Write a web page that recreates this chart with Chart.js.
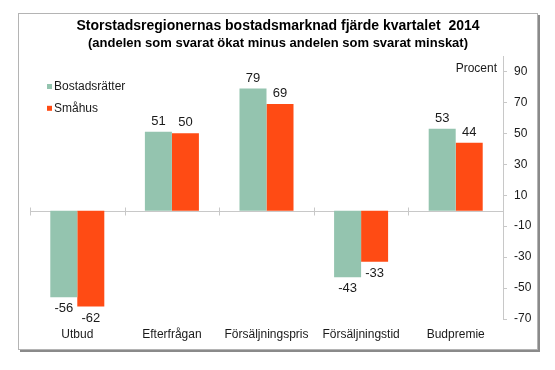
<!DOCTYPE html>
<html>
<head>
<meta charset="utf-8">
<script src="https://cdn.jsdelivr.net/npm/chart.js@4.4.1/dist/chart.umd.min.js"></script>
<style>
  html, body { margin: 0; padding: 0; background: #fff; }
  #chart { display: block; }
</style>
</head>
<body>
<canvas id="chart" width="555" height="370"></canvas>
<script>
// Chart data
const categories = ['Utbud', 'Efterfrågan', 'Försäljningspris', 'Försäljningstid', 'Budpremie'];
const bostadsratter = [-56, 51, 79, -43, 53];
const smahus = [-62, 50, 69, -33, 44];
const seriesNames = ['Bostadsrätter', 'Småhus'];
const yTicks = [-70, -50, -30, -10, 10, 30, 50, 70, 90];
const titleLines = [
    'Storstadsregionernas bostadsmarknad fjärde kvartalet  2014',
    '(andelen som svarat ökat minus andelen som svarat minskat)'
];
const unitLabel = 'Procent';

const GREEN = '#94C4AF';
const ORANGE = '#FF4B14';
const AXIS_GREY = '#c8c8c8';
const TEXT = '#1a1a1a';
const FONT = "'Liberation Sans', Arial, sans-serif";

Chart.defaults.font.family = FONT;
Chart.defaults.color = TEXT;

// Grey frame with a darker shadow on the right and bottom, plus the two title lines
const framePlugin = {
    id: 'frame',
    beforeDraw(chart) {
        const ctx = chart.ctx;
        ctx.save();
        ctx.fillStyle = '#fff';
        ctx.fillRect(0, 0, chart.width, chart.height);
        ctx.fillStyle = '#8a8a8a';
        ctx.fillRect(20, 15, 520, 337);
        ctx.fillStyle = '#fff';
        ctx.fillRect(18, 13, 520, 337);
        ctx.strokeStyle = '#b4b4b4';
        ctx.lineWidth = 1;
        ctx.strokeRect(18.5, 13.5, 519, 336);

        ctx.fillStyle = '#000';
        ctx.textAlign = 'center';
        ctx.textBaseline = 'middle';
        ctx.font = 'bold 14px ' + FONT;
        ctx.fillText(titleLines[0], 278, 26.5);
        ctx.font = 'bold 13px ' + FONT;
        ctx.fillText(titleLines[1], 278, 43.5);
        ctx.restore();
    }
};

// Zero line with small tick marks between the categories
const zeroLinePlugin = {
    id: 'zeroLine',
    beforeDatasetsDraw(chart) {
        const {ctx, chartArea, scales: {x, y}} = chart;
        const y0 = Math.round(y.getPixelForValue(0)) + 0.5;
        ctx.save();
        ctx.strokeStyle = AXIS_GREY;
        ctx.lineWidth = 1;
        ctx.beginPath();
        ctx.moveTo(chartArea.left, y0);
        ctx.lineTo(chartArea.right, y0);
        for (let i = 0; i < categories.length; i++) {
            const bx = Math.round(x.getPixelForValue(i - 0.5)) + 0.5;
            ctx.moveTo(bx, y0 - 4);
            ctx.lineTo(bx, y0 + 4);
        }
        ctx.stroke();
        ctx.restore();
    }
};

// Value labels above positive bars and below negative ones
const valueLabelPlugin = {
    id: 'valueLabels',
    afterDatasetsDraw(chart) {
        const ctx = chart.ctx;
        ctx.save();
        ctx.font = '13px ' + FONT;
        ctx.fillStyle = TEXT;
        ctx.textAlign = 'center';
        ctx.textBaseline = 'middle';
        chart.data.datasets.forEach((ds, di) => {
            chart.getDatasetMeta(di).data.forEach((bar, i) => {
                const v = ds.data[i];
                const ly = v >= 0 ? bar.y - 10.5 : bar.y + 11.5;
                ctx.fillText(String(v), bar.x, ly);
            });
        });
        ctx.restore();
    }
};

// Vertical legend in the top left corner, plus the unit label by the axis
const sideTextPlugin = {
    id: 'sideText',
    afterDraw(chart) {
        const {ctx, scales: {y}} = chart;
        ctx.save();
        ctx.font = '12px ' + FONT;
        ctx.fillStyle = TEXT;
        ctx.textBaseline = 'middle';
        chart.data.datasets.forEach((ds, di) => {
            const ly = 86.5 + di * 21.8;
            ctx.fillStyle = ds.backgroundColor;
            ctx.fillRect(47, ly - 2.5, 5, 5);
            ctx.fillStyle = TEXT;
            ctx.textAlign = 'left';
            ctx.fillText(ds.label, 54, ly);
        });
        ctx.textAlign = 'right';
        ctx.fillText(unitLabel, y.left - 6, y.getPixelForValue(yTicks[yTicks.length - 1]) - 3);
        ctx.restore();
    }
};

const ctx = document.getElementById('chart').getContext('2d');
new Chart(ctx, {
    type: 'bar',
    data: {
        labels: categories,
        datasets: [
            { label: seriesNames[0], data: bostadsratter, backgroundColor: GREEN },
            { label: seriesNames[1], data: smahus, backgroundColor: ORANGE }
        ]
    },
    options: {
        responsive: false,
        animation: false,
        events: [],
        categoryPercentage: 0.571,
        barPercentage: 1,
        layout: {
            padding: { left: 30, right: 0, top: 56, bottom: 20 }
        },
        scales: {
            x: {
                grid: { display: false, drawTicks: false },
                border: { display: false },
                ticks: {
                    padding: 8,
                    maxRotation: 0,
                    autoSkip: false,
                    color: TEXT,
                    font: { size: 12 }
                },
                afterFit(scale) { scale.height = 31; }
            },
            y: {
                position: 'right',
                min: -70,
                max: 100,
                afterBuildTicks(scale) {
                    scale.ticks = yTicks.map(v => ({ value: v }));
                },
                afterFit(scale) { scale.width = 52; },
                grid: {
                    drawOnChartArea: false,
                    tickLength: 4,
                    color: AXIS_GREY
                },
                border: { color: AXIS_GREY },
                ticks: {
                    padding: 7,
                    color: TEXT,
                    font: { size: 12 }
                }
            }
        },
        plugins: {
            legend: { display: false },
            tooltip: { enabled: false },
            title: { display: false }
        }
    },
    plugins: [framePlugin, zeroLinePlugin, valueLabelPlugin, sideTextPlugin]
});
</script>
</body>
</html>
